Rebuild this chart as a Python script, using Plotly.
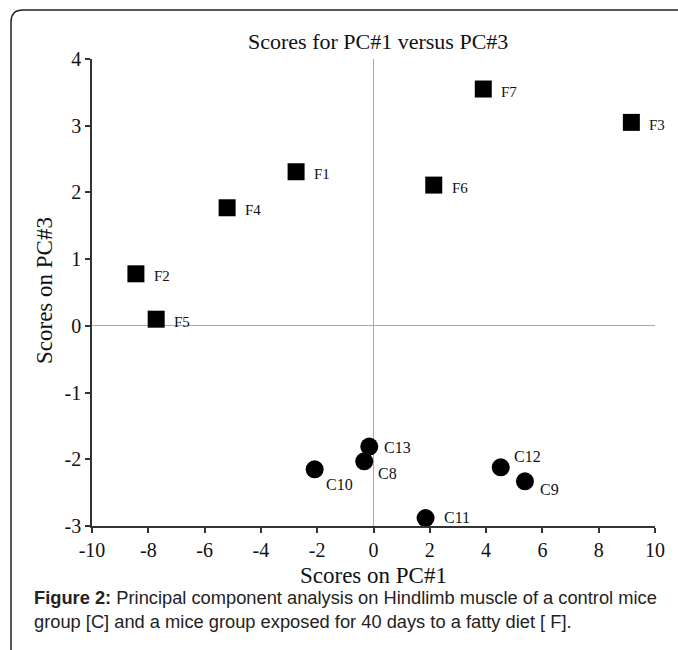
import plotly.graph_objects as go

# ---- data ----
f_names = ["F1", "F2", "F3", "F4", "F5", "F6", "F7"]
f_pc1 = [-2.75, -8.44, 9.16, -5.20, -7.72, 2.14, 3.90]
f_pc3 = [2.31, 0.78, 3.05, 1.77, 0.10, 2.11, 3.55]

c_names = ["C8", "C9", "C10", "C11", "C12", "C13"]
c_pc1 = [-0.33, 5.38, -2.09, 1.85, 4.52, -0.15]
c_pc3 = [-2.03, -2.33, -2.15, -2.88, -2.12, -1.81]

x_ticks = [-10, -8, -6, -4, -2, 0, 2, 4, 6, 8, 10]
y_ticks = [-3, -2, -1, 0, 1, 2, 3, 4]

title_text = "Scores for PC#1 versus PC#3"
x_title = "Scores on PC#1"
y_title = "Scores on PC#3"
caption_1 = "<b>Figure 2:</b> Principal component analysis on Hindlimb muscle of a control mice"
caption_2 = "group [C] and a mice group exposed for 40 days to a fatty diet [ F]."

# ---- layout geometry (pixels) ----
W, H = 678, 650
L, R, T, B = 92, 23, 59, 124
PW, PH = W - L - R, H - T - B


def px(xp):
    return (xp - L) / PW


def py(yp):
    return (H - B - yp) / PH


serif = "Liberation Serif, Times New Roman, serif"
sans = "Liberation Sans, Arial, sans-serif"

# label offsets (pixels): (dx, dy)
f_off = [(17, -2.5)] * len(f_names)
c_off = {"C8": (13, -12), "C9": (14, -8), "C10": (10, -15),
         "C11": (17, 0), "C12": (12, 11), "C13": (14, -1)}

fig = go.Figure()
fig.add_trace(go.Scatter(x=f_pc1, y=f_pc3, mode="markers",
                         marker=dict(symbol="square", size=17, color="black"),
                         hoverinfo="text", text=f_names, showlegend=False))
fig.add_trace(go.Scatter(x=c_pc1, y=c_pc3, mode="markers",
                         marker=dict(symbol="circle", size=18, color="black"),
                         hoverinfo="text", text=c_names, showlegend=False))

annotations = []
for n, xv, yv, (dx, dy) in zip(f_names, f_pc1, f_pc3, f_off):
    annotations.append(dict(x=xv, y=yv, xref="x", yref="y", text=n, showarrow=False,
                            xanchor="left", yanchor="middle", xshift=dx - 1, yshift=dy,
                            font=dict(family=serif, size=15, color="#111")))
for n, xv, yv in zip(c_names, c_pc1, c_pc3):
    dx, dy = c_off[n]
    annotations.append(dict(x=xv, y=yv, xref="x", yref="y", text=n, showarrow=False,
                            xanchor="left", yanchor="middle", xshift=dx - 1, yshift=dy,
                            font=dict(family=serif, size=16, color="#111")))

# titles
annotations.append(dict(x=px(378), y=py(42), xref="paper", yref="paper", text=title_text,
                        showarrow=False, xanchor="center", yanchor="middle",
                        font=dict(family=serif, size=22, color="#111")))
annotations.append(dict(x=px(373.5), y=py(575), xref="paper", yref="paper", text=x_title,
                        showarrow=False, xanchor="center", yanchor="middle",
                        font=dict(family=serif, size=23, color="#111")))
annotations.append(dict(x=px(44), y=py(291), xref="paper", yref="paper", text=y_title,
                        showarrow=False, xanchor="center", yanchor="middle", textangle=-90,
                        font=dict(family=serif, size=23, color="#111")))
# caption
annotations.append(dict(x=px(32), y=py(597), xref="paper", yref="paper", text=caption_1,
                        showarrow=False, xanchor="left", yanchor="middle",
                        font=dict(family=sans, size=18.3, color="#222")))
annotations.append(dict(x=px(32), y=py(621), xref="paper", yref="paper", text=caption_2,
                        showarrow=False, xanchor="left", yanchor="middle",
                        font=dict(family=sans, size=18.3, color="#222")))

# frame border (top-left rounded corner)
border = (f"M {px(11)},{py(652)} L {px(11)},{py(22)} "
          f"Q {px(11)},{py(10)} {px(23)},{py(10)} L {px(680)},{py(10)}")
shapes = [dict(type="path", path=border, xref="paper", yref="paper",
               line=dict(color="#222", width=1.5))]

fig.update_layout(
    width=W, height=H,
    margin=dict(l=L, r=R, t=T, b=B, pad=0),
    paper_bgcolor="white", plot_bgcolor="white",
    showlegend=False,
    annotations=annotations,
    shapes=shapes,
    xaxis=dict(range=[-10, 10], tickvals=x_ticks, ticktext=[str(v) for v in x_ticks],
               showgrid=False, zeroline=True, zerolinecolor="#aaa", zerolinewidth=1,
               showline=True, linecolor="#333", linewidth=1.5,
               ticks="outside", ticklen=5, tickwidth=1.5, tickcolor="#333",
               tickfont=dict(family=serif, size=20, color="#111"), fixedrange=True),
    yaxis=dict(range=[-3, 4], tickvals=y_ticks, ticktext=[str(v) for v in y_ticks],
               showgrid=False, zeroline=True, zerolinecolor="#aaa", zerolinewidth=1,
               showline=True, linecolor="#333", linewidth=1.5,
               ticks="outside", ticklen=5, tickwidth=1.5, tickcolor="#333",
               tickfont=dict(family=serif, size=20, color="#111"), fixedrange=True),
)

fig.write_html("out.html", config={"displayModeBar": False},
               post_script="document.body.style.margin='0px';document.body.style.overflow='hidden';")
